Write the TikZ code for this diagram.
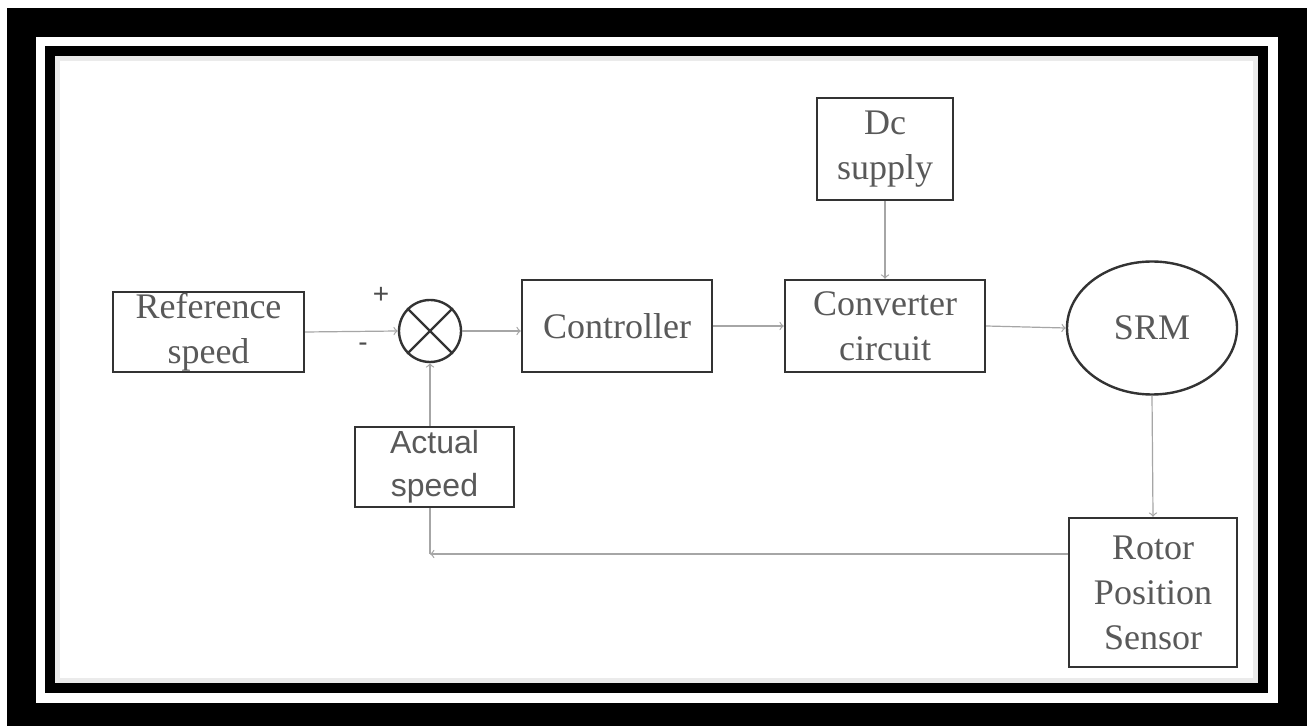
\documentclass[tikz,border=0pt]{standalone}
\usepackage{fontspec}
\setmainfont{Liberation Serif}
\setsansfont{Liberation Sans}
\usetikzlibrary{shapes.geometric}
\usetikzlibrary{arrows}

\begin{document}
\begin{tikzpicture}[x=0.5pt, y=-0.5pt,
		block/.style={draw=black!80, line width=1.2pt, fill=white, text=black!65, align=center, inner sep=0pt, font=\fontsize{18}{22.5}\selectfont},
		link/.style={draw=black!35, line width=0.6pt, -to}]
		\useasboundingbox (0,0) rectangle (1311,726);
		% frame
		\fill[black] (7,8) rectangle (1307,726);
		\fill[white] (36,37) rectangle (1278,703);
		\fill[black] (45,46) rectangle (1268,693);
		\fill[black!8] (55,56) rectangle (1258,683);
		\fill[white] (60,61) rectangle (1253,678);

		\node[block, minimum width=95.5pt, minimum height=40pt] (ref) at (208.5,332) {Reference\\speed};
		\node[draw=black!80, line width=1.2pt, fill=white, circle, minimum size=31pt] (sum) at (430,331) {};
		\draw[black!80, line width=1.2pt] (sum.north west) -- (sum.south east);
		\draw[black!80, line width=1.2pt] (sum.north east) -- (sum.south west);
		\node[block, minimum width=95pt, minimum height=46pt] (ctrl) at (617,326) {Controller};
		\node[block, minimum width=100pt, minimum height=46pt] (conv) at (885,326) {Converter\\circuit};
		\node[block, minimum width=68pt, minimum height=51pt] (dc) at (885,149) {Dc\\supply};
		\node[block, ellipse, minimum width=85pt, minimum height=66.5pt] (srm) at (1152,328) {SRM};
		\node[block, minimum width=84pt, minimum height=74.5pt] (rotor) at (1153,592.5) {Rotor\\Position\\Sensor};
		\node[text=black!70, font=\sffamily\fontsize{14}{14}\selectfont] (plus) at (381,295) {+};
		\node[text=black!70, font=\sffamily\fontsize{14}{14}\selectfont] (minus) at (363,347) {-};

		\draw[link] (ref.east) -- (sum.west);
		\draw[link] (sum.east) -- (sum.east -| ctrl.west);
		\draw[link] (ctrl.east) -- (conv.west);
		\draw[link] (conv.east) -- (srm.west);
		\draw[link] (dc.south) -- (conv.north);
		\draw[link] (srm.south) -- (rotor.north);
		\coordinate (corner) at (430,554);
		\draw[link] (rotor.west |- corner) -- (corner);
		\draw[link] (corner) -- (sum.south);
		\node[block, font=\sffamily\fontsize{16}{21.5}\selectfont, minimum width=79.5pt, minimum height=40pt] (actual) at (434.5,467) {Actual\\speed};
	\end{tikzpicture}
\end{document}
